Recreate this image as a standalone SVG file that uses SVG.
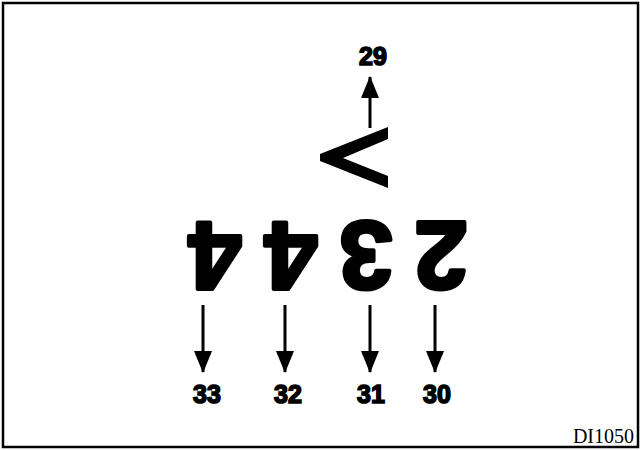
<svg xmlns="http://www.w3.org/2000/svg" width="642" height="450" viewBox="0 0 642 450">
<style>
.big{font-family:"Liberation Sans",Arial,sans-serif;font-weight:bold;font-size:96px;fill:#000;stroke:#000;stroke-width:4;stroke-linejoin:round;text-anchor:middle}
.lbl{font-family:"Liberation Sans",Arial,sans-serif;font-weight:bold;font-size:25px;fill:#000;stroke:#000;stroke-width:1.6;text-anchor:middle}
.ref{font-family:"Liberation Serif","Times New Roman",serif;font-size:20px;fill:#000;text-anchor:end}
.arr{stroke:#000;stroke-width:3;fill:none;marker-end:url(#ah)}
</style>
<defs>
<marker id="ah" markerUnits="userSpaceOnUse" markerWidth="22" markerHeight="18" viewBox="0 0 22 18" refX="21" refY="9" orient="auto">
<path d="M0,0 L22,9 L0,18 z" fill="#000"/>
</marker>
</defs>
<rect x="3" y="3" width="635" height="444" fill="#fff" stroke="#000" stroke-width="2.5"/>
<g id="chevron">
<polygon points="388,127 388,139 343,158 388,176 388,188 320,161 320,154" fill="#000"/>
</g>
<g id="digit4a"><text class="big" x="215" y="290" transform="rotate(180 215 256)">4</text></g>
<g id="digit4b"><text class="big" x="291" y="290" transform="rotate(180 291 256)">4</text></g>
<g id="digit3"><text class="big" x="366" y="290" transform="rotate(180 366 256)">3</text></g>
<g id="digit2"><text class="big" x="441" y="290" transform="rotate(180 441 256)">2</text></g>
<g id="connectors">
<line class="arr" x1="370" y1="128" x2="370" y2="77"/>
<line class="arr" x1="203" y1="305" x2="203" y2="372"/>
<line class="arr" x1="285" y1="305" x2="285" y2="372"/>
<line class="arr" x1="370" y1="305" x2="370" y2="372"/>
<line class="arr" x1="435" y1="305" x2="435" y2="372"/>
</g>
<g id="label29"><text class="lbl" x="373" y="65">29</text></g>
<g id="label33"><text class="lbl" x="207" y="403">33</text></g>
<g id="label32"><text class="lbl" x="288" y="403">32</text></g>
<g id="label31"><text class="lbl" x="371" y="403">31</text></g>
<g id="label30"><text class="lbl" x="437" y="403">30</text></g>
<g id="ref"><text class="ref" x="634" y="443">DI1050</text></g>
</svg>
